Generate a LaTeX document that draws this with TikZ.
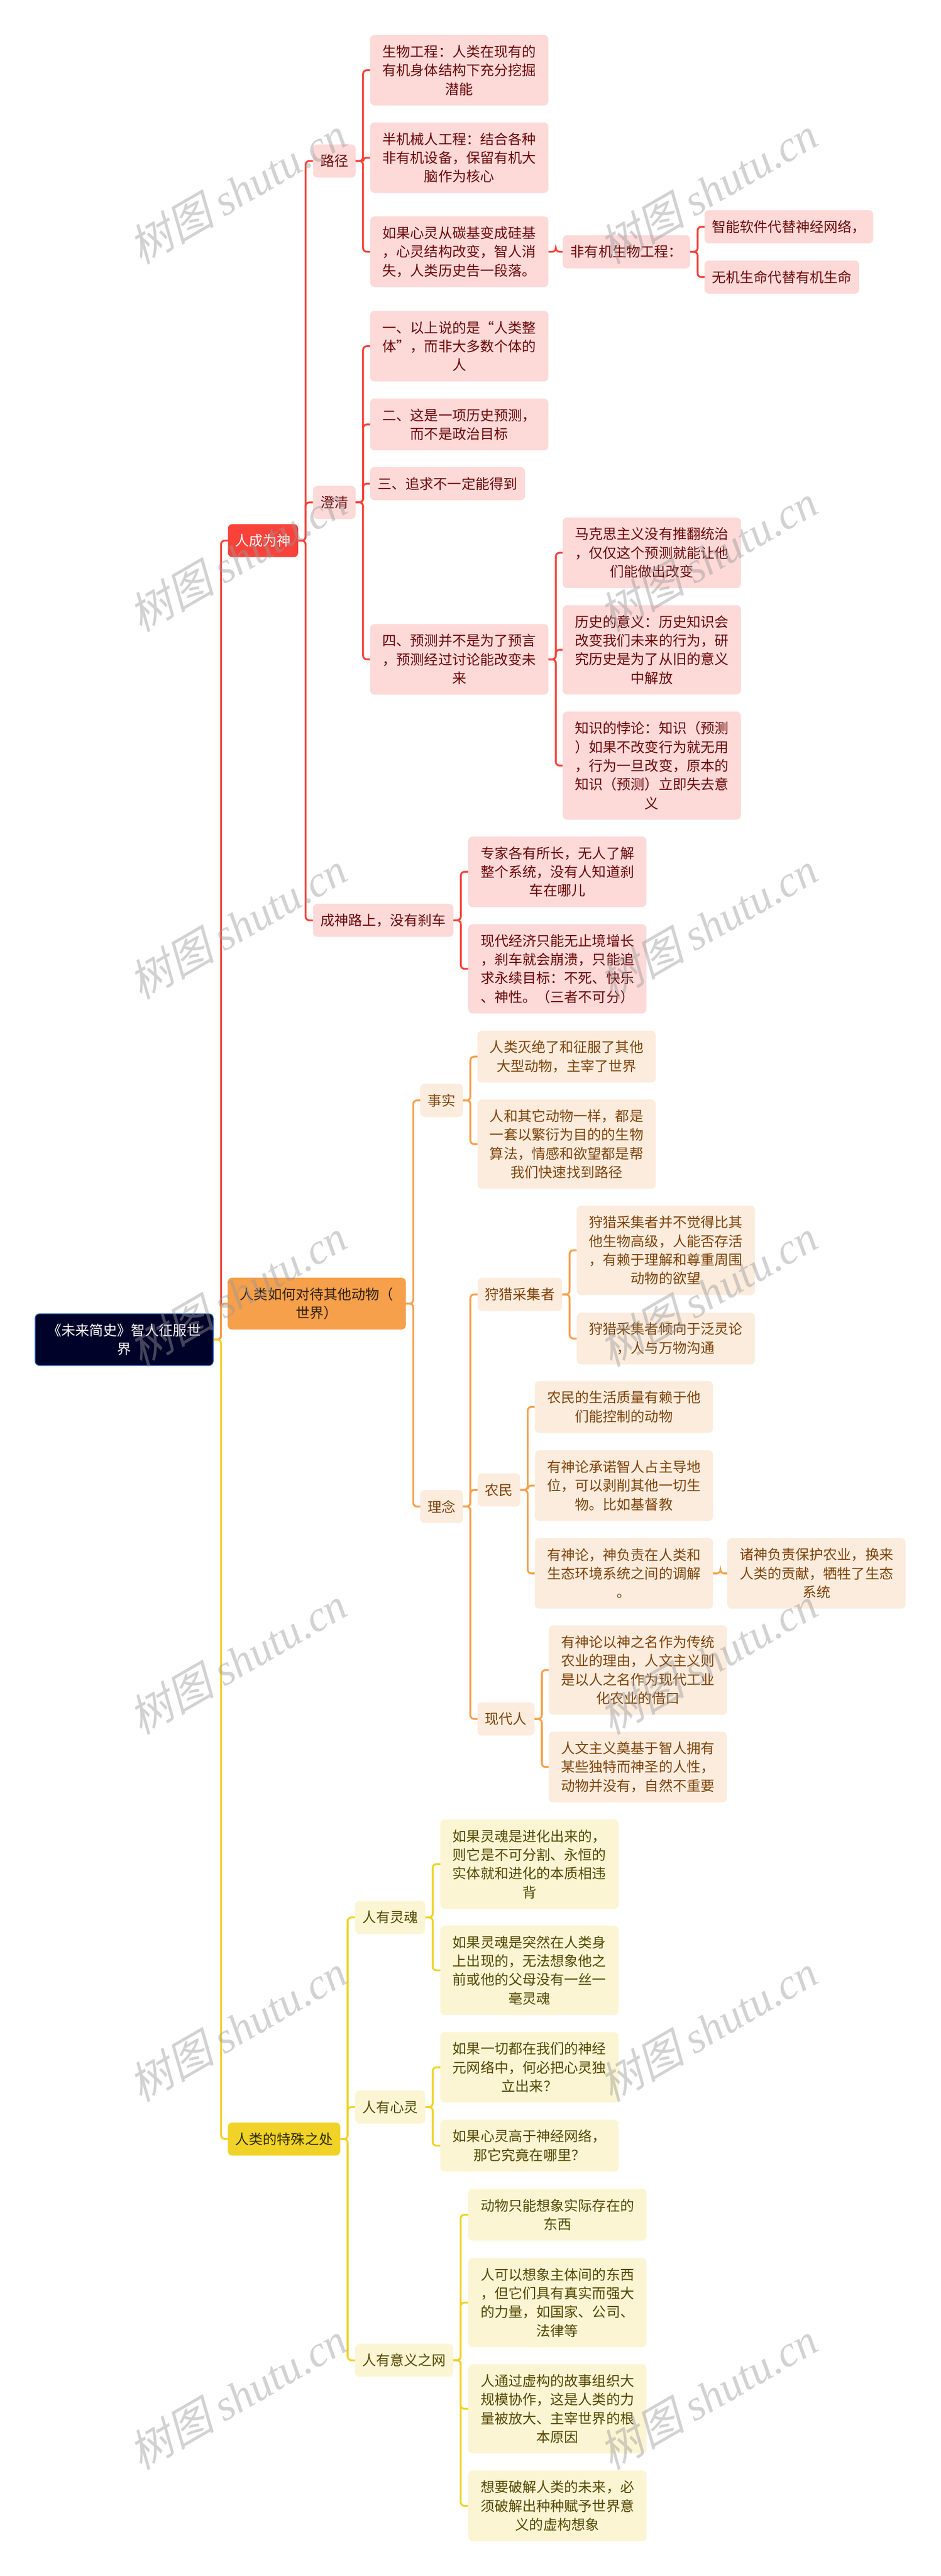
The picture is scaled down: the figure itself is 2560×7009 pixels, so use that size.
\documentclass[tikz,border=0pt]{standalone}
\usepackage{fontspec}
\setmainfont{Noto Sans CJK SC}
\newfontfamily\wmcjk[FakeSlant=0.25]{Noto Sans CJK SC}
\newfontfamily\wmlatin{Liberation Serif Italic}
\newcommand\fc{\char"FF0C\relax}
\newcommand\fk{\char"FF1A\relax}
\newcommand\fl{\char"FF08\relax}
\newcommand\fr{\char"FF09\relax}
\newcommand\fq{\char"FF1F\relax}
\definecolor{rootnavy}{HTML}{000229}
\definecolor{rootedge}{HTML}{2F6FD0}
\definecolor{redmain}{HTML}{F9423A}
\definecolor{redsoft}{HTML}{FDD9D8}
\definecolor{redtext}{HTML}{6B0606}
\definecolor{orgmain}{HTML}{F7A04B}
\definecolor{orgsoft}{HTML}{FCECDD}
\definecolor{orgtext}{HTML}{7F4208}
\definecolor{yelmain}{HTML}{F0D326}
\definecolor{yelsoft}{HTML}{FCF5D3}
\definecolor{yeltext}{HTML}{534700}
\tikzset{
    box/.style={rounded corners=12pt, inner sep=0pt, align=center, minimum width=485pt, font=\fontsize{38}{51}\selectfont},
    nlines/.style={minimum height={51pt*#1+39pt}},
    rootbox/.style={box, nlines=2, fill=rootnavy, draw=rootedge, line width=2pt, text=white},
    redtop/.style={box, nlines=1, fill=redmain, text=white},
    redbox/.style={box, fill=redsoft, text=redtext},
    orgtop/.style={box, fill=orgmain, text=black!80!orgmain},
    orgbox/.style={box, fill=orgsoft, text=orgtext},
    yeltop/.style={box, nlines=1, fill=yelmain, text=black!80!yelmain},
    yelbox/.style={box, fill=yelsoft, text=yeltext},
    link/.style={rounded corners=10pt, line width=5pt},
    wmark/.style={rotate=30, text=black!40, opacity=0.44, inner sep=0pt, font=\fontsize{118}{118}\selectfont}
}
\begin{document}
\begin{tikzpicture}[x=1pt,y=1pt]
    \fill[white] (0,0) rectangle (2560,-7009);

    \node[rootbox] (root) at (338,-3645) {《未来简史》智人征服世\\界};

    \node[redtop, minimum width=191pt] (god) at (716,-1471) {人成为神};
    \node[redbox, nlines=1, minimum width=116pt] (path) at (910,-438) {路径};
    \node[redbox, nlines=3] (bio) at (1250,-191) {生物工程\fk 人类在现有的\\有机身体结构下充分挖掘\\潜能};
    \node[redbox, nlines=3] (cyborg) at (1250,-429) {半机械人工程\fk 结合各种\\非有机设备\fc 保留有机大\\脑作为核心};
    \node[redbox, nlines=3] (silicon) at (1250,-685) {如果心灵从碳基变成硅基\\\fc 心灵结构改变\fc 智人消\\失\fc 人类历史告一段落。};
    \node[redbox, nlines=1, minimum width=347pt] (inorg) at (1705,-685) {非有机生物工程\fk};
    \node[redbox, nlines=1, minimum width=459pt] (soft) at (2147,-617) {智能软件代替神经网络\fc};
    \node[redbox, nlines=1, minimum width=421pt] (life) at (2128,-754) {无机生命代替有机生命};

    \node[redbox, nlines=1, minimum width=116pt] (clear) at (910,-1367) {澄清};
    \node[redbox, nlines=3] (one) at (1250,-942) {一、以上说的是“人类整\\体”\fc 而非大多数个体的\\人};
    \node[redbox, nlines=2] (two) at (1250,-1155) {二、这是一项历史预测\fc\\而不是政治目标};
    \node[redbox, nlines=1, minimum width=422pt] (three) at (1218,-1316) {三、追求不一定能得到};
    \node[redbox, nlines=3] (four) at (1250,-1794) {四、预测并不是为了预言\\\fc 预测经过讨论能改变未\\来};
    \node[redbox, nlines=3] (marx) at (1774,-1504) {马克思主义没有推翻统治\\\fc 仅仅这个预测就能让他\\们能做出改变};
    \node[redbox, nlines=4] (meaning) at (1774,-1768) {历史的意义\fk 历史知识会\\改变我们未来的行为\fc 研\\究历史是为了从旧的意义\\中解放};
    \node[redbox, nlines=5] (paradox) at (1774,-2083) {知识的悖论\fk 知识\fl 预测\\\fr 如果不改变行为就无用\\\fc 行为一旦改变\fc 原本的\\知识\fl 预测\fr 立即失去意\\义};

    \node[redbox, nlines=1, minimum width=382pt] (brake) at (1043,-2504) {成神路上\fc 没有刹车};
    \node[redbox, nlines=3] (expert) at (1517,-2372) {专家各有所长\fc 无人了解\\整个系统\fc 没有人知道刹\\车在哪儿};
    \node[redbox, nlines=4] (economy) at (1517,-2636) {现代经济只能无止境增长\\\fc 刹车就会崩溃\fc 只能追\\求永续目标\fk 不死、快乐\\、神性。\fl 三者不可分\fr};

    \node[orgtop, nlines=2] (animal) at (862,-3547) {人类如何对待其他动物\fl\\世界\fr};
    \node[orgbox, nlines=1, minimum width=116pt] (fact) at (1202,-2994) {事实};
    \node[orgbox, nlines=2] (extinct) at (1542,-2875) {人类灭绝了和征服了其他\\大型动物\fc 主宰了世界};
    \node[orgbox, nlines=4] (algo) at (1542,-3113) {人和其它动物一样\fc 都是\\一套以繁衍为目的的生物\\算法\fc 情感和欲望都是帮\\我们快速找到路径};

    \node[orgbox, nlines=1, minimum width=116pt] (idea) at (1202,-4099) {理念};
    \node[orgbox, nlines=1, minimum width=230pt] (hunter) at (1415,-3522) {狩猎采集者};
    \node[orgbox, nlines=4] (huntone) at (1812,-3402) {狩猎采集者并不觉得比其\\他生物高级\fc 人能否存活\\\fc 有赖于理解和尊重周围\\动物的欲望};
    \node[orgbox, nlines=2] (hunttwo) at (1812,-3642) {狩猎采集者倾向于泛灵论\\\fc 人与万物沟通};
    \node[orgbox, nlines=1, minimum width=116pt] (farmer) at (1358,-4054) {农民};
    \node[orgbox, nlines=2] (farmone) at (1698,-3828) {农民的生活质量有赖于他\\们能控制的动物};
    \node[orgbox, nlines=3] (farmtwo) at (1698,-4042) {有神论承诺智人占主导地\\位\fc 可以剥削其他一切生\\物。比如基督教};
    \node[orgbox, nlines=3] (farmthree) at (1698,-4281) {有神论\fc 神负责在人类和\\生态环境系统之间的调解\\。};
    \node[orgbox, nlines=3] (gods) at (2222,-4281) {诸神负责保护农业\fc 换来\\人类的贡献\fc 牺牲了生态\\系统};
    \node[orgbox, nlines=1, minimum width=155pt] (modern) at (1377,-4677) {现代人};
    \node[orgbox, nlines=4] (modone) at (1736,-4544) {有神论以神之名作为传统\\农业的理由\fc 人文主义则\\是以人之名作为现代工业\\化农业的借口};
    \node[orgbox, nlines=3] (modtwo) at (1736,-4808) {人文主义奠基于智人拥有\\某些独特而神圣的人性\fc\\动物并没有\fc 自然不重要};

    \node[yeltop, minimum width=306pt] (special) at (773,-5820) {人类的特殊之处};
    \node[yelbox, nlines=1, minimum width=191pt] (soul) at (1062,-5217) {人有灵魂};
    \node[yelbox, nlines=4] (soulone) at (1441,-5072) {如果灵魂是进化出来的\fc\\则它是不可分割、永恒的\\实体就和进化的本质相违\\背};
    \node[yelbox, nlines=4] (soultwo) at (1441,-5361) {如果灵魂是突然在人类身\\上出现的\fc 无法想象他之\\前或他的父母没有一丝一\\毫灵魂};
    \node[yelbox, nlines=1, minimum width=191pt] (mind) at (1062,-5733) {人有心灵};
    \node[yelbox, nlines=3] (mindone) at (1441,-5625) {如果一切都在我们的神经\\元网络中\fc 何必把心灵独\\立出来\fq};
    \node[yelbox, nlines=2] (mindtwo) at (1441,-5838) {如果心灵高于神经网络\fc\\那它究竟在哪里\fq};
    \node[yelbox, nlines=1, minimum width=267pt] (web) at (1100,-6422) {人有意义之网};
    \node[yelbox, nlines=2] (webone) at (1517,-6026) {动物只能想象实际存在的\\东西};
    \node[yelbox, nlines=4] (webtwo) at (1517,-6265) {人可以想象主体间的东西\\\fc 但它们具有真实而强大\\的力量\fc 如国家、公司、\\法律等};
    \node[yelbox, nlines=4] (webthree) at (1517,-6554) {人通过虚构的故事组织大\\规模协作\fc 这是人类的力\\量被放大、主宰世界的根\\本原因};
    \node[yelbox, nlines=3] (webfour) at (1517,-6818) {想要破解人类的未来\fc 必\\须破解出种种赋予世界意\\义的虚构想象};

    \foreach \from/\to in {root/god, god/path, god/clear, god/brake, path/bio, path/cyborg, path/silicon,
            silicon/inorg, inorg/soft, inorg/life, clear/one, clear/two, clear/three, clear/four,
            four/marx, four/meaning, four/paradox, brake/expert, brake/economy}
        \draw[link, redmain] (\from.east) -- ++(20,0) |- (\to.west);
    \foreach \from/\to in {root/animal, animal/fact, animal/idea, fact/extinct, fact/algo, idea/hunter,
            idea/farmer, idea/modern, hunter/huntone, hunter/hunttwo, farmer/farmone, farmer/farmtwo,
            farmer/farmthree, farmthree/gods, modern/modone, modern/modtwo}
        \draw[link, orgmain] (\from.east) -- ++(20,0) |- (\to.west);
    \foreach \from/\to in {root/special, special/soul, special/mind, special/web, soul/soulone, soul/soultwo,
            mind/mindone, mind/mindtwo, web/webone, web/webtwo, web/webthree, web/webfour}
        \draw[link, yelmain] (\from.east) -- ++(20,0) |- (\to.west);

    \foreach \wx in {646,1926}
        \foreach \wy in {518,1518,2518,3518,4518,5518,6518}
            \node[wmark] (wm\wx\wy) at (\wx,-\wy) {{\wmcjk 树图} {\wmlatin shutu.cn}};
\end{tikzpicture}
\end{document}
